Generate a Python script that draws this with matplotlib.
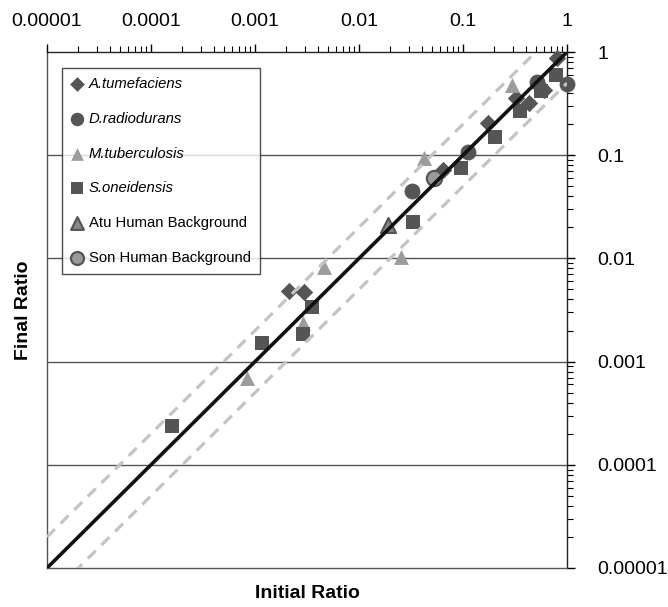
import matplotlib
matplotlib.use("Agg")
import matplotlib.pyplot as plt
import numpy as np

plt.rcParams['font.family'] = ['Liberation Sans', 'DejaVu Sans']

# values (initial ratio, final ratio)
atu_x = [0.00212, 0.00296, 0.0643, 0.174, 0.324, 0.432, 0.601, 0.802]
atu_y = [0.00483, 0.00472, 0.0719, 0.205, 0.358, 0.321, 0.428, 0.875]

dra_x = [0.0324, 0.112, 0.515, 1.0]
dra_y = [0.045, 0.107, 0.512, 0.49]

mtb_x = [0.000838, 0.0029, 0.0046, 0.0254, 0.0422, 0.296]
mtb_y = [0.000693, 0.00237, 0.00826, 0.0103, 0.094, 0.479]

son_x = [0.000159, 0.00117, 0.0029, 0.00353, 0.033, 0.0957, 0.203, 0.353, 0.562, 0.783]
son_y = [0.000238, 0.00151, 0.00185, 0.00338, 0.0225, 0.0751, 0.150, 0.268, 0.419, 0.599]

atu_bg_x = [0.019]
atu_bg_y = [0.0211]

son_bg_x = [0.0526]
son_bg_y = [0.0601]

decades = [0.00001, 0.0001, 0.001, 0.01, 0.1, 1]
decade_labels = ['0.00001', '0.0001', '0.001', '0.01', '0.1', '1']
band = 2.0

dark = '#555555'
light = '#9c9c9c'

fig = plt.figure(figsize=(6.68, 6.07), dpi=100)
ax = fig.add_axes([0.0704, 0.0643, 0.7784, 0.85])

ax.set_xscale('log')
ax.set_yscale('log')
ax.set_xlim(1e-5, 1)
ax.set_ylim(1e-5, 1)

for yv in decades[1:-1]:
    ax.axhline(yv, color='#555555', lw=1.0, zorder=1)

line_x = np.array([1e-5, 1])
ax.plot(line_x, line_x * band, color='#c4c4c4', lw=2.3, dashes=(3.5, 2.5), zorder=4)
ax.plot(line_x, line_x / band, color='#c4c4c4', lw=2.3, dashes=(3.5, 2.5), zorder=4)
ax.plot(line_x, line_x, color='#111111', lw=2.6, zorder=5, solid_capstyle='butt')

ax.scatter(atu_x, atu_y, marker='D', s=78, color=dark, lw=0, label='A.tumefaciens', zorder=3, clip_on=False)
ax.scatter(dra_x, dra_y, marker='o', s=130, color=dark, lw=0, label='D.radiodurans', zorder=3, clip_on=False)
ax.scatter(mtb_x, mtb_y, marker='^', s=115, color=light, lw=0, label='M.tuberculosis', zorder=3, clip_on=False)
ax.scatter(son_x, son_y, marker='s', s=110, color=dark, lw=0, label='S.oneidensis', zorder=3, clip_on=False)
ax.scatter(atu_bg_x, atu_bg_y, marker='^', s=115, color='#8a8a8a', edgecolor=dark, lw=1.6,
           label='Atu Human Background', zorder=3)
ax.scatter(son_bg_x, son_bg_y, marker='o', s=120, color='#9a9a9a', edgecolor=dark, lw=1.6,
           label='Son Human Background', zorder=3)

# ticks: labels on top and right only
ax.xaxis.tick_top()
ax.yaxis.tick_right()
ax.set_xticks(decades)
ax.set_xticklabels(decade_labels)
ax.set_yticks(decades)
ax.set_yticklabels(decade_labels)
ax.tick_params(axis='x', which='major', direction='out', length=6, width=1, pad=10, labelsize=14)
ax.tick_params(axis='x', which='minor', direction='out', length=4, width=0.8)
ax.tick_params(axis='y', which='major', direction='out', length=6, width=1, pad=16, labelsize=14)
ax.tick_params(axis='y', which='minor', direction='out', length=4, width=0.8)
for lab in ax.get_yticklabels():
    lab.set_horizontalalignment('left')

for side in ['top', 'right']:
    ax.spines[side].set_color('#222222')
    ax.spines[side].set_linewidth(1.0)
for side in ['left', 'bottom']:
    ax.spines[side].set_color('#555555')
    ax.spines[side].set_linewidth(1.0)

ax.xaxis.set_label_position('bottom')
ax.yaxis.set_label_position('left')
ax.set_xlabel('Initial Ratio', fontsize=14, fontweight='bold', labelpad=12)
ax.set_ylabel('Final Ratio', fontsize=14, fontweight='bold', labelpad=11)

leg = ax.legend(loc='upper left', bbox_to_anchor=(0.029, 0.969), borderaxespad=0,
                fontsize=10.7, frameon=True, fancybox=False, edgecolor='#222222',
                handlelength=0.8, handletextpad=0.4, labelspacing=1.4,
                borderpad=0.6, scatterpoints=1, markerscale=0.85)
leg.get_frame().set_linewidth(1.0)
leg.set_zorder(6)
for txt in leg.get_texts()[:4]:
    txt.set_fontstyle('italic')

fig.savefig('out.png', dpi=100)
